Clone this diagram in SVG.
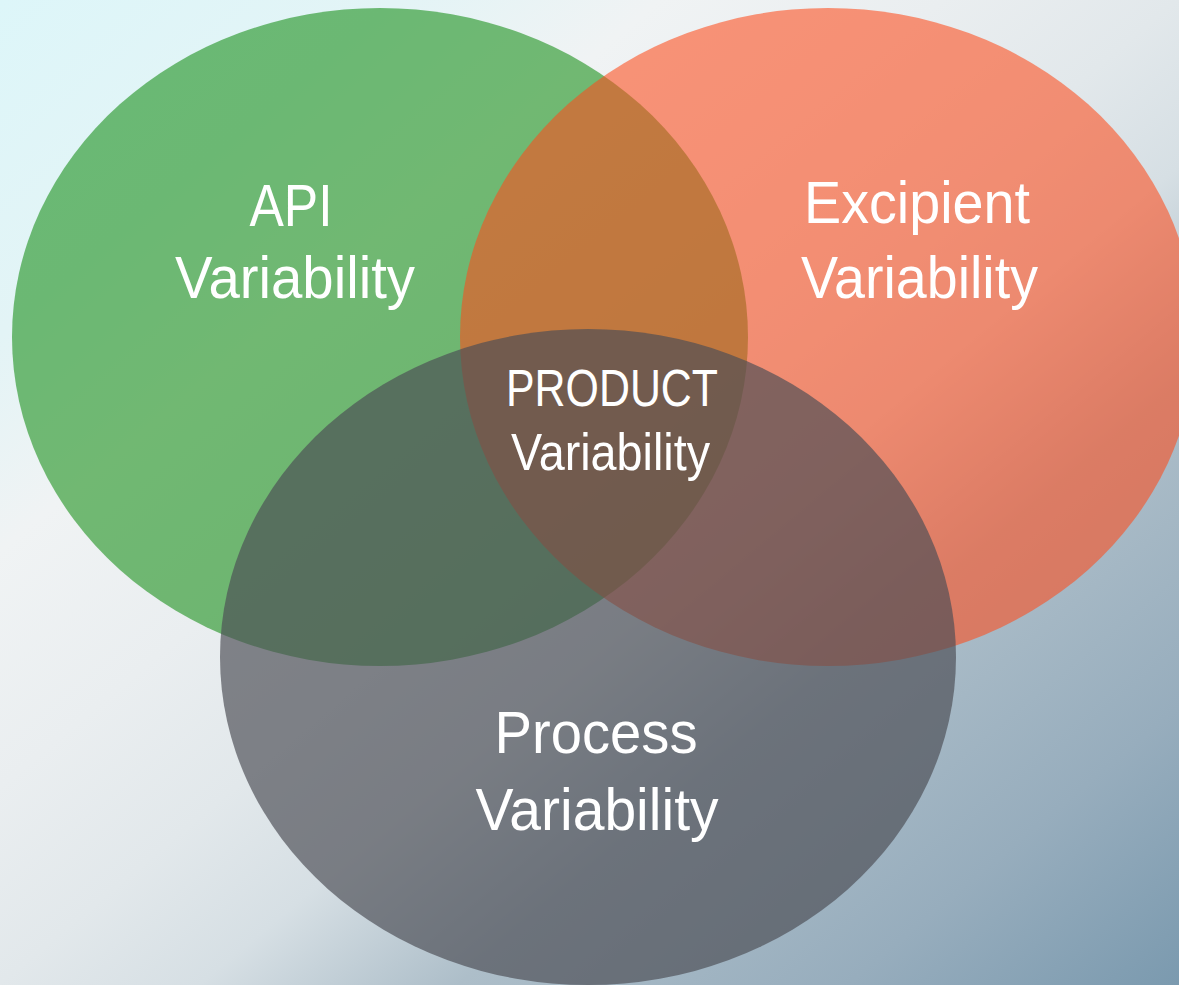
<svg xmlns="http://www.w3.org/2000/svg" width="1179" height="985" viewBox="0 0 1179 985">
  <defs>
    <linearGradient id="bg" gradientUnits="userSpaceOnUse" x1="0" y1="0" x2="968" y2="1159">
      <stop offset="0" stop-color="#ddf6f9"/>
      <stop offset="0.17" stop-color="#e3f4f6"/>
      <stop offset="0.28" stop-color="#f0f3f4"/>
      <stop offset="0.4" stop-color="#eaeef0"/>
      <stop offset="0.5" stop-color="#e2e8eb"/>
      <stop offset="0.585" stop-color="#d6dfe4"/>
      <stop offset="0.695" stop-color="#adbec9"/>
      <stop offset="0.86" stop-color="#97adbd"/>
      <stop offset="1" stop-color="#7b9aaf"/>
    </linearGradient>
  </defs>
  <style>
    .set { opacity: 0.58; }
    .gray { opacity: 0.68; }
    .lbl { font-family: "Liberation Sans Narrow", "Arial Narrow", "Liberation Sans", "DejaVu Sans Condensed", sans-serif; fill: #ffffff; text-anchor: middle; }
    .big { font-size: 59px; }
    .mid { font-size: 52px; }
  </style>
  <rect x="0" y="0" width="1179" height="985" fill="url(#bg)"/>
  <g id="api">
    <ellipse class="set" cx="380" cy="337" rx="368" ry="329" fill="rgb(20,142,21)"/>
    <text class="lbl big" x="291" y="226" textLength="83" lengthAdjust="spacingAndGlyphs">API</text>
    <text class="lbl big" x="295" y="298" textLength="240" lengthAdjust="spacingAndGlyphs">Variability</text>
  </g>
  <g id="excipient">
    <ellipse class="set" cx="828" cy="337" rx="368" ry="329" fill="rgb(254,76,28)"/>
    <text class="lbl big" x="917" y="223" textLength="226" lengthAdjust="spacingAndGlyphs">Excipient</text>
    <text class="lbl big" x="919.5" y="298" textLength="237" lengthAdjust="spacingAndGlyphs">Variability</text>
  </g>
  <g id="process">
    <ellipse class="gray" cx="588" cy="657" rx="368" ry="328" fill="rgb(76,78,85)"/>
    <text class="lbl big" x="596" y="753" textLength="203" lengthAdjust="spacingAndGlyphs">Process</text>
    <text class="lbl big" x="597" y="830" textLength="243" lengthAdjust="spacingAndGlyphs">Variability</text>
  </g>
  <g id="product">
    <text class="lbl mid" x="612" y="406" textLength="212" lengthAdjust="spacingAndGlyphs">PRODUCT</text>
    <text class="lbl mid" x="610.5" y="470" textLength="199" lengthAdjust="spacingAndGlyphs">Variability</text>
  </g>
  <g id="connectors"/>
</svg>
